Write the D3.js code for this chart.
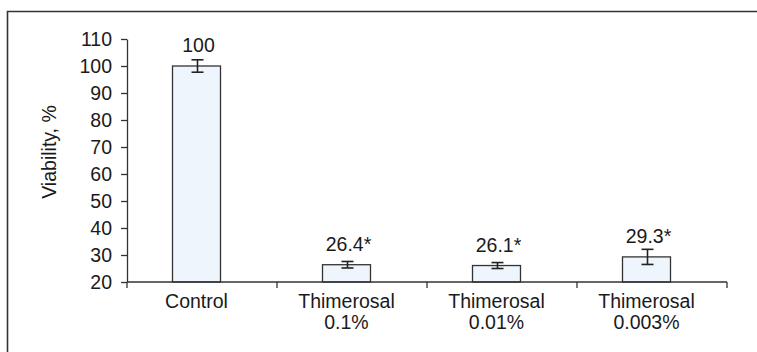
<!DOCTYPE html>
<html>
<head>
<meta charset="utf-8">
<script src="https://cdn.jsdelivr.net/npm/d3@7"></script>
<style>
  body { margin: 0; background: #fff; }
  svg text { font-family: "Liberation Sans", Arial, sans-serif; fill: #1a1a1a; }
</style>
</head>
<body>
<div id="chart"></div>
<script>
// data
var categories = ['Control', 'Thimerosal 0.1%', 'Thimerosal 0.01%', 'Thimerosal 0.003%'];
var catLines = [['Control'], ['Thimerosal', '0.1%'], ['Thimerosal', '0.01%'], ['Thimerosal', '0.003%']];
var values = [100, 26.4, 26.1, 29.3];
var errors = [2.3, 1.2, 1.1, 2.8];
var valueLabels = ['100', '26.4*', '26.1*', '29.3*'];
var yTicks = [20, 30, 40, 50, 60, 70, 80, 90, 100, 110];

var W = 757, H = 352;
var svg = d3.select('#chart').append('svg')
  .attr('width', W)
  .attr('height', H);

// outer frame (only top and left visible)
svg.append('path')
  .attr('d', 'M7.5,' + H + 'V11.5H' + W)
  .attr('fill', 'none')
  .attr('stroke', '#333')
  .attr('stroke-width', 1.6);

var x = d3.scaleBand()
  .domain(categories)
  .range([127, 727]);

var y = d3.scaleLinear()
  .domain([20, 110])
  .range([282, 39]);

var barW = 48, shift = -5.5;
function cx(d) { return x(d) + x.bandwidth() / 2 + shift; }

// y axis
var yAxis = svg.append('g')
  .attr('transform', 'translate(127,0)')
  .call(d3.axisLeft(y).tickValues(yTicks).tickSize(6).tickPadding(9).tickSizeOuter(0));
yAxis.select('.domain').attr('stroke', '#333').attr('stroke-width', 1.3);
yAxis.selectAll('.tick line').attr('stroke', '#333').attr('stroke-width', 1.3);
yAxis.selectAll('text').style('font-size', '19.5px').attr('fill', '#1a1a1a')
  .style('font-family', '"Liberation Sans", Arial, sans-serif');

svg.append('text')
  .attr('transform', 'translate(56,152) rotate(-90)')
  .attr('text-anchor', 'middle')
  .style('font-size', '19.5px')
  .text('Viability, %');

// bars
var g = svg.append('g');
g.selectAll('rect')
  .data(values)
  .enter()
  .append('rect')
  .attr('x', function(d, i) { return cx(categories[i]) - barW / 2; })
  .attr('y', function(d) { return y(d); })
  .attr('width', barW)
  .attr('height', function(d) { return y(20) - y(d); })
  .attr('fill', '#eef5fc')
  .attr('stroke', '#333')
  .attr('stroke-width', 1.3);

// error bars
var eb = g.selectAll('g.err')
  .data(values)
  .enter()
  .append('g')
  .attr('class', 'err')
  .attr('stroke', '#222')
  .attr('stroke-width', 1.6);
eb.append('line')
  .attr('x1', function(d, i) { return cx(categories[i]) + 1; })
  .attr('x2', function(d, i) { return cx(categories[i]) + 1; })
  .attr('y1', function(d, i) { return y(d + errors[i]); })
  .attr('y2', function(d, i) { return y(d - errors[i]); });
eb.append('line')
  .attr('x1', function(d, i) { return cx(categories[i]) - 5; })
  .attr('x2', function(d, i) { return cx(categories[i]) + 7; })
  .attr('y1', function(d, i) { return y(d + errors[i]); })
  .attr('y2', function(d, i) { return y(d + errors[i]); });
eb.append('line')
  .attr('x1', function(d, i) { return cx(categories[i]) - 5; })
  .attr('x2', function(d, i) { return cx(categories[i]) + 7; })
  .attr('y1', function(d, i) { return y(d - errors[i]); })
  .attr('y2', function(d, i) { return y(d - errors[i]); });

// value labels
g.selectAll('text.val')
  .data(values)
  .enter()
  .append('text')
  .attr('class', 'val')
  .attr('x', function(d, i) { return cx(categories[i]) + 2; })
  .attr('y', function(d) { return y(d) - 14; })
  .attr('text-anchor', 'middle')
  .style('font-size', '19.5px')
  .text(function(d, i) { return valueLabels[i]; });

// x axis line with category ticks pointing down
var xAxis = svg.append('g');
xAxis.append('line')
  .attr('x1', x.range()[0]).attr('x2', x.range()[1])
  .attr('y1', y(20)).attr('y2', y(20))
  .attr('stroke', '#333').attr('stroke-width', 1.3);
var edges = categories.map(function(c) { return x(c); }).concat([x.range()[1]]);
xAxis.selectAll('line.tk')
  .data(edges)
  .enter()
  .append('line')
  .attr('class', 'tk')
  .attr('x1', function(d) { return d; }).attr('x2', function(d) { return d; })
  .attr('y1', y(20)).attr('y2', y(20) + 6)
  .attr('stroke', '#333').attr('stroke-width', 1.3);

var lbl = xAxis.selectAll('text.cat')
  .data(categories)
  .enter()
  .append('text')
  .attr('class', 'cat')
  .attr('text-anchor', 'middle')
  .style('font-size', '19.5px')
  .attr('x', function(d) { return cx(d); })
  .attr('y', 308);
lbl.selectAll('tspan')
  .data(function(d, i) { return catLines[i]; })
  .enter()
  .append('tspan')
  .attr('x', function() { return cx(d3.select(this.parentNode).datum()); })
  .attr('dy', function(d, j) { return j === 0 ? 0 : 20.5; })
  .text(function(d) { return d; });
</script>
</body>
</html>
